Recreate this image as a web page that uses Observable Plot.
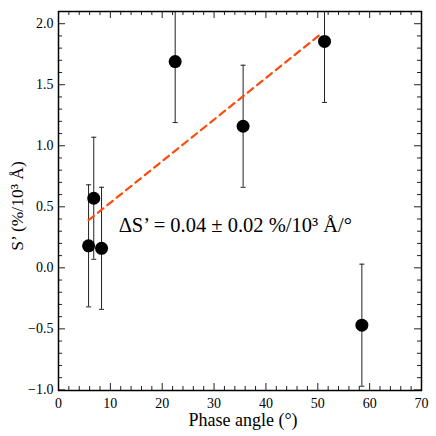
<!DOCTYPE html>
<html><head><meta charset="utf-8">
<script src="https://cdn.jsdelivr.net/npm/d3@7"></script>
<script src="https://cdn.jsdelivr.net/npm/@observablehq/plot@0.6"></script>
<style>
body{margin:0;background:#fff}
svg, svg text { font-family: "Liberation Serif", "Times New Roman", serif !important; }
</style>
</head><body><div id="chart"></div>
<script>
// Data
const phase  = [5.8, 6.8, 8.3, 22.5, 35.6, 51.3, 58.5];
const sPrime = [0.18, 0.57, 0.16, 1.69, 1.16, 1.855, -0.47];
const sErr   = [0.5, 0.5, 0.5, 0.5, 0.5, 0.5, 0.5];
// Linear fit line endpoints
const fitPhase = [5.8, 50.7];
const fitS     = [0.39, 1.92];
// Ticks
const xMajor = [0, 10, 20, 30, 40, 50, 60, 70];
const xMinor = d3.range(0, 71, 2).filter(v => v % 10 !== 0);
const yMajor = [-1.0, -0.5, 0.0, 0.5, 1.0, 1.5, 2.0];
const yMinor = d3.range(-10, 21, 1).map(v => v / 10).filter(v => Math.abs(v * 2 - Math.round(v * 2)) > 1e-9);
// Labels
const xLabel = "Phase angle (°)";
const yLabel = "S’ (%/10³ Å)";
const annotation = "ΔS’ = 0.04 ± 0.02 %/10³ Å/°";
const annoX = 11.6, annoY = 0.35;

const W = 436, H = 436, mL = 58, mR = 15, mT = 11, mB = 46;
const innerW = W - mL - mR, innerH = H - mT - mB;
const major = 7, minor = 4;

const pts = phase.map((p, i) => ({p, s: sPrime[i], lo: sPrime[i] - sErr[i], hi: sPrime[i] + sErr[i]}));
const fit = fitPhase.map((p, i) => ({p, s: fitS[i]}));

const cap = {draw(ctx) { ctx.moveTo(-2.5, 0); ctx.lineTo(2.5, 0); }};
const fx = d3.format("d"), fy = d3.format(".1f");

const chart = Plot.plot({
  width: W, height: H,
  marginLeft: mL, marginRight: mR, marginTop: mT, marginBottom: mB,
  style: {background: "#fff", color: "#000"},
  x: {domain: [0, 70], axis: null},
  y: {domain: [-1.005, 2.1], axis: null},
  marks: [
    // inward ticks
    Plot.tickX(xMajor, {x: d => d, insetTop: innerH - major, stroke: "#222"}),
    Plot.tickX(xMinor, {x: d => d, insetTop: innerH - minor, stroke: "#222"}),
    Plot.tickX(xMajor, {x: d => d, insetBottom: innerH - major, stroke: "#222"}),
    Plot.tickX(xMinor, {x: d => d, insetBottom: innerH - minor, stroke: "#222"}),
    Plot.tickY(yMajor, {y: d => d, insetRight: innerW - major, stroke: "#222"}),
    Plot.tickY(yMinor, {y: d => d, insetRight: innerW - minor, stroke: "#222"}),
    Plot.tickY(yMajor, {y: d => d, insetLeft: innerW - major, stroke: "#222"}),
    Plot.tickY(yMinor, {y: d => d, insetLeft: innerW - minor, stroke: "#222"}),
    // tick labels
    Plot.text(xMajor, {x: d => d, frameAnchor: "bottom", lineAnchor: "middle", dy: 13, text: d => fx(d), fontSize: 14, fill: "#000"}),
    Plot.text(yMajor, {y: d => d, x: 0, textAnchor: "end", dx: -5, text: d => fy(d), fontSize: 14, fill: "#000"}),
    // error bars
    Plot.ruleX(pts, {x: "p", y1: "lo", y2: "hi", stroke: "#222", strokeWidth: 1, clip: true}),
    Plot.dot(pts, {x: "p", y: "lo", symbol: cap, stroke: "#222", strokeWidth: 1, clip: true}),
    Plot.dot(pts, {x: "p", y: "hi", symbol: cap, stroke: "#222", strokeWidth: 1, clip: true}),
    // fit line
    Plot.line(fit, {x: "p", y: "s", stroke: "#ff4a0e", strokeWidth: 2.2, strokeDasharray: "7,5"}),
    // points
    Plot.dot(pts, {x: "p", y: "s", r: 6.5, fill: "#000", stroke: "none"}),
    // annotation
    Plot.text([annotation], {x: annoX, y: annoY, text: d => d, textAnchor: "start", fontSize: 20.5, fill: "#000"}),
    // axis labels
    Plot.text([xLabel], {frameAnchor: "bottom", lineAnchor: "middle", dx: 3, dy: 30, text: d => d, fontSize: 18, fill: "#000"}),
    Plot.text([yLabel], {frameAnchor: "left", textAnchor: "middle", dx: -41, dy: 5, rotate: -90, text: d => d, fontSize: 17.5, fill: "#000"}),
    Plot.frame({stroke: "#000", strokeWidth: 1.5})
  ]
});
document.getElementById("chart").appendChild(chart);
</script>
</body></html>
